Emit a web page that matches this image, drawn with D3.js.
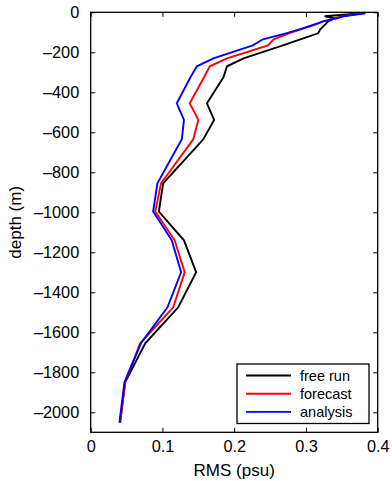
<!DOCTYPE html>
<html>
<head>
<meta charset="utf-8">
<script src="https://cdn.jsdelivr.net/npm/d3@7"></script>
<style>
  html, body { margin: 0; padding: 0; background: #fff; }
  svg { display: block; font-family: "Liberation Sans", Arial, Helvetica, sans-serif; }
</style>
</head>
<body>
<svg id="chart" width="392" height="481"></svg>
<script>
// ---- data ----
const depths = [-5, -20, -30, -45, -60, -85, -105, -135, -165, -230, -270, -325, -455, -538, -635, -855, -996, -1140, -1300, -1475, -1655, -1850, -2052];
const freeRun = [0.378, 0.326, 0.340, 0.331, 0.327, 0.320, 0.317, 0.292, 0.268, 0.213, 0.190, 0.185, 0.162, 0.172, 0.157, 0.101, 0.095, 0.130, 0.147, 0.122, 0.076, 0.048, 0.041];
const forecast = [0.378, 0.350, 0.340, 0.324, 0.314, 0.293, 0.276, 0.255, 0.247, 0.190, 0.166, 0.158, 0.138, 0.150, 0.143, 0.098, 0.090, 0.117, 0.131, 0.115, 0.069, 0.048, 0.041];
const analysis = [0.383, 0.352, 0.343, 0.324, 0.312, 0.291, 0.272, 0.240, 0.226, 0.171, 0.148, 0.139, 0.120, 0.130, 0.127, 0.093, 0.087, 0.113, 0.126, 0.107, 0.070, 0.047, 0.040];
const seriesNames = ["free run", "forecast", "analysis"];
const seriesColors = ["#000000", "#ff0000", "#0000ff"];
const xTicks = [0, 0.1, 0.2, 0.3, 0.4];
const yTicks = [0, -200, -400, -600, -800, -1000, -1200, -1400, -1600, -1800, -2000];
const xLabel = "RMS (psu)";
const yLabel = "depth (m)";

// ---- layout ----
const pL = 90.7, pR = 377.7, pT = 12.3, pB = 432.3;
const svg = d3.select("#chart");
const x = d3.scaleLinear().domain([0, 0.4]).range([pL, pR]);
const y = d3.scaleLinear().domain([-2100, 0]).range([pB, pT]);

const fmtX = d => d === 0 ? "0" : d3.format(".1f")(d);
const fmtY = d => d < 0 ? "\u2013" + Math.abs(d) : String(d);
const tickLen = 4.5;
const fs = 16.3;

const gB = svg.append("g").attr("transform", `translate(0,${pB})`)
  .call(d3.axisBottom(x).tickValues(xTicks).tickFormat(fmtX).tickSizeInner(-tickLen).tickSizeOuter(0).tickPadding(14));
const gT = svg.append("g").attr("transform", `translate(0,${pT})`)
  .call(d3.axisTop(x).tickValues(xTicks).tickFormat("").tickSizeInner(-tickLen).tickSizeOuter(0));
const gL = svg.append("g").attr("transform", `translate(${pL},0)`)
  .call(d3.axisLeft(y).tickValues(yTicks).tickFormat(fmtY).tickSizeInner(-tickLen).tickSizeOuter(0).tickPadding(11.5));
const gR = svg.append("g").attr("transform", `translate(${pR},0)`)
  .call(d3.axisRight(y).tickValues(yTicks).tickFormat("").tickSizeInner(-tickLen).tickSizeOuter(0));

[gB, gT, gL, gR].forEach(g => {
  g.select(".domain").remove();
  g.selectAll(".tick line").attr("stroke", "#000").attr("stroke-width", 1);
  g.selectAll("text").attr("fill", "#000").style("font-size", fs + "px")
   .style("font-family", '"Liberation Sans", Arial, sans-serif');
});
gB.selectAll(".tick text").attr("dy", "0.35em");

const series = [freeRun, forecast, analysis];
const line = d3.line().x(d => x(d[0])).y(d => y(d[1]));
series.forEach((vals, i) => {
  svg.append("path")
    .datum(vals.map((v, j) => [v, depths[j]]))
    .attr("d", line)
    .attr("fill", "none")
    .attr("stroke", seriesColors[i])
    .attr("stroke-width", 1.9)
    .attr("stroke-linejoin", "miter");
});

svg.append("rect")
  .attr("x", pL).attr("y", pT)
  .attr("width", pR - pL).attr("height", pB - pT)
  .attr("fill", "none").attr("stroke", "#000").attr("stroke-width", 1.3);

svg.append("text")
  .attr("x", (pL + pR) / 2).attr("y", 476)
  .attr("text-anchor", "middle").style("font-size", "17px").text(xLabel);
svg.append("text")
  .attr("transform", `translate(21,${(pT + pB) / 2}) rotate(-90)`)
  .attr("text-anchor", "middle").style("font-size", "17px").text(yLabel);

const lg = { x: 237, y: 364, w: 132, h: 59.5 };
svg.append("rect")
  .attr("x", lg.x).attr("y", lg.y).attr("width", lg.w).attr("height", lg.h)
  .attr("fill", "#fff").attr("stroke", "#000").attr("stroke-width", 1.3);
seriesNames.forEach((name, i) => {
  const yy = 375.5 + i * 18.2;
  svg.append("line")
    .attr("x1", 246).attr("x2", 291).attr("y1", yy).attr("y2", yy)
    .attr("stroke", seriesColors[i]).attr("stroke-width", 1.9);
  svg.append("text")
    .attr("x", 300).attr("y", yy).attr("dy", "0.35em")
    .style("font-size", "14.5px").text(name);
});
</script>
</body>
</html>
